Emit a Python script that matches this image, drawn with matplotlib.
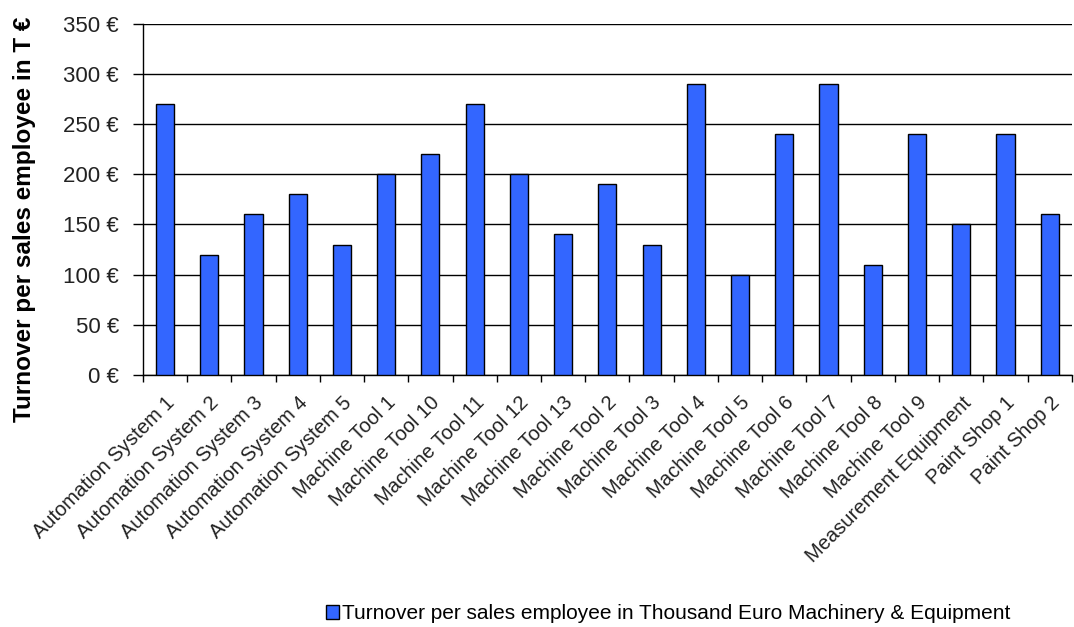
import numpy as np
import matplotlib.pyplot as plt
import matplotlib.transforms as mtransforms
from matplotlib.ticker import FuncFormatter, MultipleLocator

plt.rcParams['font.family'] = ['Liberation Sans', 'DejaVu Sans']

# turnover per sales employee, thousand euro
categories = ["Automation System 1", "Automation System 2", "Automation System 3",
              "Automation System 4", "Automation System 5", "Machine Tool 1",
              "Machine Tool 10", "Machine Tool 11", "Machine Tool 12", "Machine Tool 13",
              "Machine Tool 2", "Machine Tool 3", "Machine Tool 4", "Machine Tool 5",
              "Machine Tool 6", "Machine Tool 7", "Machine Tool 8", "Machine Tool 9",
              "Measurement Equipment", "Paint Shop 1", "Paint Shop 2"]
turnover = [270, 120, 160, 180, 130, 200, 220, 270, 200, 140,
            190, 130, 290, 100, 240, 290, 110, 240, 150, 240, 160]
series_name = "Turnover per sales employee in Thousand Euro Machinery & Equipment"

fig = plt.figure(figsize=(10.74, 6.27), dpi=100)
ax = fig.add_axes([0.133, 0.402, 0.865, 0.560])

x = np.arange(len(categories))
bars = ax.bar(x, turnover, width=0.41, color='#3366FF', edgecolor='black',
              linewidth=1.0, zorder=3, label=series_name)

ax.set_xlim(-0.5, len(categories) - 0.5)
ax.set_ylim(0, 350)
ax.yaxis.set_major_locator(MultipleLocator(50))
ax.yaxis.set_major_formatter(FuncFormatter(lambda v, p: f"{int(v)} €"))
ax.grid(axis='y', color='black', linewidth=1.0, zorder=0)

# labels at category centres, tick marks between categories
ax.set_xticks(x)
ax.set_xticklabels(categories, rotation=45, ha='right', rotation_mode='anchor',
                   fontsize=14.5, color='#222222')
shift = mtransforms.ScaledTranslation(-5 / 100, 0, fig.dpi_scale_trans)
for lbl in ax.get_xticklabels():
    lbl.set_transform(lbl.get_transform() + shift)
ax.set_xticks(np.arange(len(categories) + 1) - 0.5, minor=True)
ax.tick_params(axis='x', which='major', length=0, pad=13)
ax.tick_params(axis='x', which='minor', length=5, width=1.0, color='black')
ax.tick_params(axis='y', length=7.2, width=1.0, labelsize=16, pad=10, colors='black',
               labelcolor='#222222')

for side in ['top', 'right']:
    ax.spines[side].set_visible(False)
ax.spines['left'].set_linewidth(1.0)
ax.spines['bottom'].set_linewidth(1.0)

ax.set_ylabel("Turnover per sales employee in T €", fontsize=17.5, fontweight='bold')
ax.yaxis.set_label_coords(-0.115, 0.444)

fig.legend(handles=[bars], labels=[series_name], loc='center', bbox_to_anchor=(0.622, 0.021),
           frameon=False, fontsize=15, handlelength=0.6, handleheight=0.6,
           handletextpad=0.15)

fig.savefig('out.png', dpi=100)
